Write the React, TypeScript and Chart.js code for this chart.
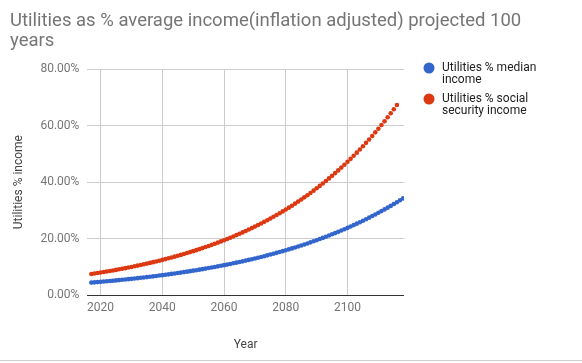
import React, { useEffect, useRef } from "react";
import { Chart, registerables } from "chart.js";

Chart.register(...registerables);

const TITLE_LINES = ["Utilities as % average income(inflation adjusted) projected 100", "years"];
const X_TITLE = "Year";
const Y_TITLE = "Utilities % income";
const X_TICKS = [2020, 2040, 2060, 2080, 2100];
const Y_TICKS = [0, 20, 40, 60, 80];

const SERIES_NAMES = ["Utilities % median income", "Utilities % social security income"];
const LEGEND_LINES = [
  ["Utilities % median", "income"],
  ["Utilities % social", "security income"],
];
const COLORS = ["#3366cc", "#dc3912"];

const MEDIAN_START_YEAR = 2017;
const MEDIAN_VALUES = [
  4.46, 4.55, 4.64, 4.73, 4.83, 4.93, 5.03, 5.13, 5.24, 5.34,
  5.45, 5.56, 5.68, 5.79, 5.91, 6.03, 6.15, 6.28, 6.41, 6.54,
  6.67, 6.81, 6.95, 7.09, 7.23, 7.38, 7.53, 7.69, 7.84, 8.0,
  8.17, 8.33, 8.5, 8.68, 8.85, 9.03, 9.22, 9.41, 9.6, 9.79,
  9.99, 10.2, 10.4, 10.62, 10.83, 11.05, 11.28, 11.51, 11.74, 11.98,
  12.23, 12.48, 12.73, 12.99, 13.26, 13.53, 13.8, 14.09, 14.37, 14.67,
  14.97, 15.27, 15.58, 15.9, 16.22, 16.56, 16.89, 17.24, 17.59, 17.95,
  18.31, 18.69, 19.07, 19.46, 19.86, 20.26, 20.67, 21.1, 21.53, 21.97,
  22.41, 22.87, 23.34, 23.81, 24.3, 24.8, 25.3, 25.82, 26.34, 26.88,
  27.43, 27.99, 28.56, 29.14, 29.74, 30.34, 30.96, 31.59, 32.24, 32.9,
  33.57, 34.25,
];

const SOCIAL_START_YEAR = 2017;
const SOCIAL_VALUES = [
  7.5, 7.67, 7.84, 8.02, 8.2, 8.38, 8.57, 8.76, 8.95, 9.16,
  9.36, 9.57, 9.78, 10.0, 10.23, 10.46, 10.69, 10.93, 11.18, 11.43,
  11.68, 11.94, 12.21, 12.49, 12.77, 13.05, 13.34, 13.64, 13.95, 14.26,
  14.58, 14.91, 15.24, 15.58, 15.93, 16.29, 16.65, 17.03, 17.41, 17.8,
  18.2, 18.6, 19.02, 19.45, 19.88, 20.33, 20.78, 21.25, 21.73, 22.21,
  22.71, 23.22, 23.74, 24.27, 24.81, 25.37, 25.94, 26.52, 27.11, 27.72,
  28.34, 28.98, 29.63, 30.29, 30.97, 31.66, 32.37, 33.1, 33.84, 34.6,
  35.37, 36.16, 36.97, 37.8, 38.65, 39.51, 40.4, 41.3, 42.23, 43.18,
  44.14, 45.13, 46.14, 47.18, 48.23, 49.31, 50.42, 51.55, 52.7, 53.88,
  55.09, 56.32, 57.59, 58.88, 60.19, 61.54, 62.92, 64.33, 65.77, 67.25,
];

const FONT = "Roboto";

const toPoints = (start: number, vals: number[]) => vals.map((v, i) => ({ x: start + i, y: v }));

const overlayPlugin = {
  id: "overlay",
  afterDraw(chart: any) {
    const ctx = chart.ctx;
    ctx.save();
    // title
    ctx.fillStyle = "#757575";
    ctx.font = `18.5px ${FONT}`;
    ctx.textBaseline = "alphabetic";
    ctx.textAlign = "left";
    ctx.fillText(TITLE_LINES[0], 10, 26);
    ctx.fillText(TITLE_LINES[1], 10, 45.5);
    // legend
    const itemY = [68, 99];
    LEGEND_LINES.forEach((lines, i) => {
      ctx.fillStyle = COLORS[i];
      ctx.beginPath();
      ctx.arc(429, itemY[i], 5.5, 0, Math.PI * 2);
      ctx.fill();
      ctx.fillStyle = "#222222";
      ctx.font = `12px ${FONT}`;
      ctx.textBaseline = "middle";
      lines.forEach((t, j) => ctx.fillText(t, 442, itemY[i] + j * 11.5));
    });
    // bottom border line
    ctx.strokeStyle = "#cccccc";
    ctx.lineWidth = 1;
    ctx.beginPath();
    ctx.moveTo(0, 360.5);
    ctx.lineTo(582, 360.5);
    ctx.stroke();
    ctx.restore();
  },
};

export default function App() {
  const ref = useRef<HTMLCanvasElement | null>(null);
  useEffect(() => {
    document.body.style.margin = "0";
    const canvas = ref.current!;
    const chart = new Chart(canvas, {
      type: "scatter",
      data: {
        datasets: [
          {
            label: SERIES_NAMES[0],
            data: toPoints(MEDIAN_START_YEAR, MEDIAN_VALUES),
            backgroundColor: COLORS[0],
            borderColor: COLORS[0],
            pointRadius: 2.3,
            pointBorderWidth: 0,
            showLine: false,
          },
          {
            label: SERIES_NAMES[1],
            data: toPoints(SOCIAL_START_YEAR, SOCIAL_VALUES),
            backgroundColor: COLORS[1],
            borderColor: COLORS[1],
            pointRadius: 2.3,
            pointBorderWidth: 0,
            showLine: false,
          },
        ],
      },
      options: {
        animation: false,
        responsive: false,
        events: [],
        layout: { padding: { top: 69, right: 178, bottom: 11, left: 12 } },
        plugins: {
          legend: { display: false },
          title: { display: false },
          tooltip: { enabled: false },
        },
        scales: {
          x: {
            type: "linear",
            min: 2015.7,
            max: 2118.3,
            afterBuildTicks: (s: any) => {
              s.ticks = X_TICKS.map((v) => ({ value: v }));
            },
            grid: { color: "#cccccc", drawTicks: false },
            border: { display: false },
            ticks: {
              padding: 6,
              color: "#757575",
              font: { family: FONT, size: 12 },
              callback: (v: any) => String(v),
            },
            title: {
              display: true,
              text: X_TITLE,
              color: "#444444",
              font: { family: FONT, size: 12 },
              padding: { top: 16, bottom: 0 },
            },
          },
          y: {
            min: 0,
            max: 80,
            afterBuildTicks: (s: any) => {
              s.ticks = Y_TICKS.map((v) => ({ value: v }));
            },
            grid: {
              color: (c: any) => (c.tick && c.tick.value === 0 ? "#333333" : "#cccccc"),
              drawTicks: false,
            },
            border: { display: false },
            ticks: {
              padding: 8,
              color: "#757575",
              font: { family: FONT, size: 12 },
              callback: (v: any) => Number(v).toFixed(2) + "%",
            },
            title: {
              display: true,
              text: Y_TITLE,
              color: "#444444",
              font: { family: FONT, size: 12 },
              padding: { top: 0, bottom: 6 },
            },
          },
        },
      },
      plugins: [overlayPlugin],
    } as any);
    return () => chart.destroy();
  }, []);
  return (
    <div style={{ width: 582, height: 363, background: "#ffffff" }}>
      <canvas ref={ref} width={582} height={363} style={{ display: "block" }} />
    </div>
  );
}
